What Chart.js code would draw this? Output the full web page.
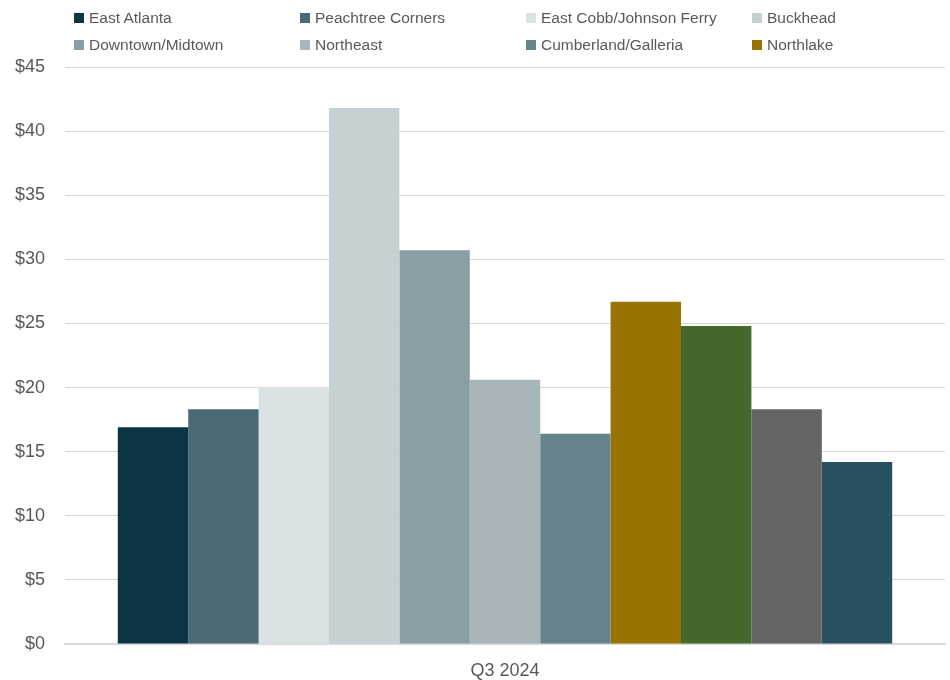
<!DOCTYPE html>
<html>
<head>
<meta charset="utf-8">
<script src="https://cdn.jsdelivr.net/npm/chart.js@4.4.1/dist/chart.umd.min.js"></script>
<style>
    html, body { margin: 0; padding: 0; background: #fff; }
    #wrap { position: relative; width: 950px; height: 680px; }
    #legend {
        position: absolute; left: 74px; top: 8px;
        display: grid; grid-template-columns: repeat(4, 226px); row-gap: 7px;
        font-family: "Liberation Sans", Arial, sans-serif; font-size: 15.5px; color: #595959;
    }
    #legend div { display: flex; align-items: center; height: 20px; white-space: nowrap; }
    #legend span.box { width: 10px; height: 10px; margin-right: 5px; display: inline-block; }
</style>
</head>
<body>
<div id="wrap">
    <canvas id="chart" width="950" height="680"></canvas>
    <div id="legend"></div>
</div>
<script>
const categories = ['Q3 2024'];
const submarkets = [
    'East Atlanta', 'Peachtree Corners', 'East Cobb/Johnson Ferry', 'Buckhead',
    'Downtown/Midtown', 'Northeast', 'Cumberland/Galleria', 'Northlake',
    'Central Perimeter', 'North Fulton', 'Northwest'
];
const rents = [16.9, 18.3, 20.0, 41.8, 30.7, 20.6, 16.4, 26.7, 24.8, 18.3, 14.2];
const colors = [
    '#0b3545', '#4a6a75', '#dae2e4', '#c5d1d3',
    '#899fa5', '#a8b6ba', '#67838b', '#987300',
    '#45692c', '#646464', '#29505e'
];
const legendCount = 8;
const yTicks = [0, 5, 10, 15, 20, 25, 30, 35, 40, 45];

window.addEventListener('load', function() {
    const datasets = submarkets.map((name, i) => ({
        label: name,
        data: [rents[i]],
        backgroundColor: colors[i],
        borderWidth: 0,
        barPercentage: 1,
        categoryPercentage: 0.88
    }));

    const chart = new Chart(document.getElementById('chart'), {
        type: 'bar',
        data: { labels: categories, datasets: datasets },
        options: {
            responsive: false,
            animation: false,
            layout: { padding: { top: 67, right: 5, left: 0, bottom: 0 } },
            plugins: {
                legend: { display: false },
                tooltip: { enabled: false }
            },
            scales: {
                x: {
                    grid: { display: false, drawTicks: false },
                    border: { color: '#d9d9d9', width: 2 },
                    ticks: { color: '#595959', font: { family: 'Liberation Sans', size: 18 }, padding: 16 },
                    afterFit: function(scale) { scale.height = 36; }
                },
                y: {
                    min: 0,
                    max: 45,
                    afterBuildTicks: function(axis) {
                        axis.ticks = yTicks.map(v => ({ value: v }));
                    },
                    afterFit: function(scale) { scale.width = 65; },
                    grid: { color: '#d9d9d9', drawTicks: false },
                    border: { display: false },
                    ticks: {
                        color: '#595959',
                        font: { family: 'Liberation Sans', size: 18 },
                        padding: 20,
                        callback: v => '$' + v
                    }
                }
            }
        }
    });

    // legend as html so the columns line up
    const legend = document.getElementById('legend');
    for (let i = 0; i < legendCount; i++) {
        const item = document.createElement('div');
        const box = document.createElement('span');
        box.className = 'box';
        box.style.background = colors[i];
        item.appendChild(box);
        item.appendChild(document.createTextNode(submarkets[i]));
        legend.appendChild(item);
    }
});
</script>
</body>
</html>
